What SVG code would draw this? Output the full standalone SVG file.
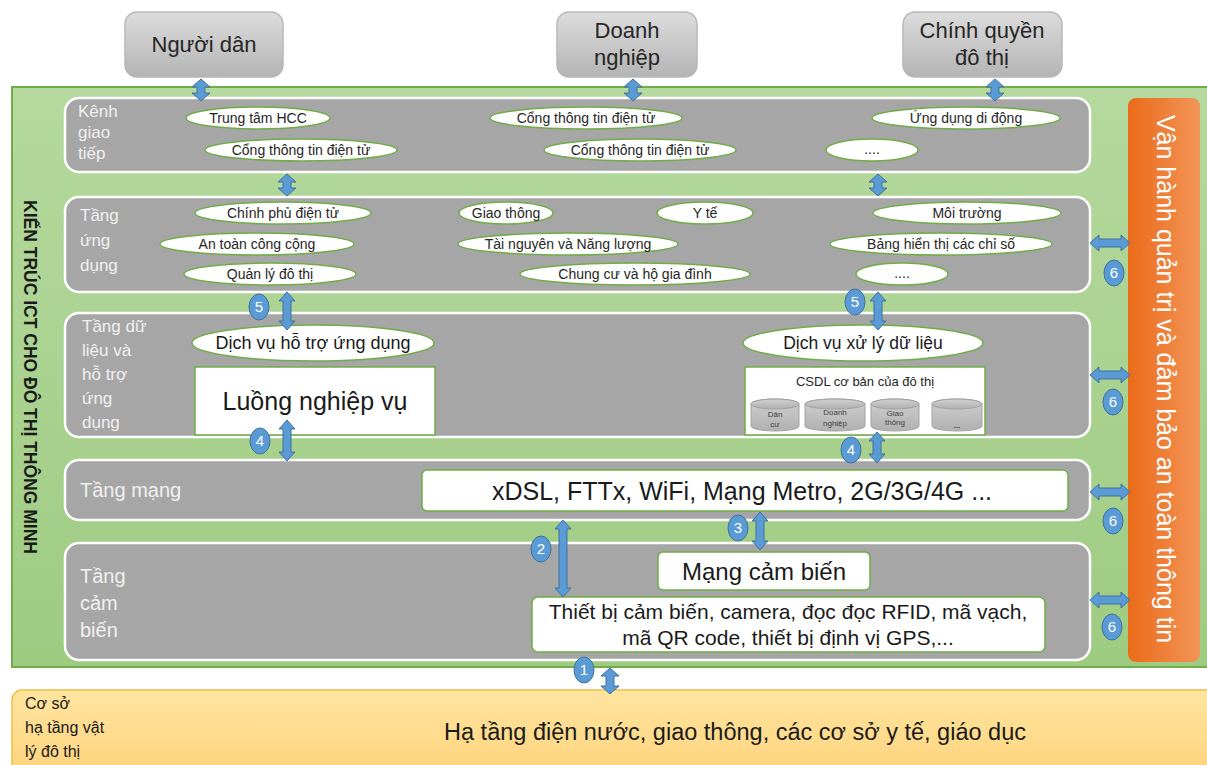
<svg xmlns="http://www.w3.org/2000/svg" width="1207" height="765" viewBox="0 0 1207 765">
<defs>
<linearGradient id="gTop" x1="0" y1="0" x2="0" y2="1"><stop offset="0" stop-color="#dcdcdc"/><stop offset="1" stop-color="#b4b4b4"/></linearGradient>
<linearGradient id="gGreen" x1="0" y1="0" x2="0" y2="1"><stop offset="0" stop-color="#b5d99e"/><stop offset="1" stop-color="#9ecb82"/></linearGradient>
<linearGradient id="gOrange" x1="0" y1="0" x2="1" y2="0"><stop offset="0" stop-color="#ea6b18"/><stop offset="1" stop-color="#f29458"/></linearGradient>
<linearGradient id="gYellow" x1="0" y1="0" x2="0" y2="1"><stop offset="0" stop-color="#ffe5a0"/><stop offset="1" stop-color="#ffd47e"/></linearGradient>
<linearGradient id="gCyl" x1="0" y1="0" x2="0" y2="1"><stop offset="0" stop-color="#d0d0d0"/><stop offset="1" stop-color="#b0b0b0"/></linearGradient>
<style>
text{font-family:"Liberation Sans","DejaVu Sans",sans-serif;}
.top{fill:url(#gTop);stroke:#b8b8b8;stroke-width:1.5}
.tt{font-size:22px;fill:#262626;text-anchor:middle}
.layer{fill:#a6a6a6;stroke:#ffffff;stroke-width:2.5}
.lbl{font-size:17px;fill:#f0f0f0}
.lbl2{font-size:20px;fill:#f0f0f0}
.ov{fill:#ffffff;stroke:#70ad47;stroke-width:1.5}
.ot{font-size:14px;fill:#262626;text-anchor:middle}
.bx{fill:#ffffff;stroke:#70ad47;stroke-width:1.5}
.big{fill:#1a1a1a;text-anchor:middle}
.arr{fill:#5b9bd5;stroke:#41719c;stroke-width:1}
.num{fill:#5b9bd5;stroke:#41719c;stroke-width:1}
.nt{font-size:15px;fill:#ffffff;text-anchor:middle}
.cyl{fill:url(#gCyl);stroke:#a3a3a3;stroke-width:1}
.ct{font-size:8px;fill:#404040;text-anchor:middle}
</style>
</defs>

<g id="frame">
<rect x="12" y="87" width="1210" height="580" fill="url(#gGreen)" stroke="#70ad47" stroke-width="2"/>
<text x="0" y="0" transform="translate(24,377) rotate(90)" font-size="17.5" font-weight="bold" fill="#1a1a1a" text-anchor="middle">KIẾN TRÚC ICT CHO ĐÔ THỊ THÔNG MINH</text>
</g>

<g id="nguoi-dan"><rect class="top" x="125" y="12" width="158" height="65" rx="12"/><text class="tt" x="204" y="52">Người dân</text></g>
<g id="doanh-nghiep"><rect class="top" x="557" y="12" width="140" height="65" rx="12"/><text class="tt" x="627" y="38">Doanh</text><text class="tt" x="627" y="65">nghiệp</text></g>
<g id="chinh-quyen"><rect class="top" x="903" y="12" width="159" height="65" rx="12"/><text class="tt" x="982" y="38">Chính quyền</text><text class="tt" x="982" y="65">đô thị</text></g>

<g id="van-hanh">
<rect x="1128" y="98" width="72" height="564" rx="8" fill="url(#gOrange)"/>
<text x="0" y="0" transform="translate(1157,379) rotate(90)" font-size="25" fill="#ffffff" text-anchor="middle">Vận hành quản trị và đảm bảo an toàn thông tin</text>
</g>

<g id="kenh-giao-tiep">
<rect class="layer" x="65" y="98" width="1025" height="74" rx="14"/>
<text class="lbl" x="78" y="117">Kênh</text><text class="lbl" x="78" y="138">giao</text><text class="lbl" x="78" y="159">tiếp</text>
<ellipse class="ov" cx="258" cy="118" rx="72" ry="11"/><text class="ot" x="258" y="123">Trung tâm HCC</text>
<ellipse class="ov" cx="586" cy="118" rx="96" ry="11"/><text class="ot" x="586" y="123">Cổng thông tin điện tử</text>
<ellipse class="ov" cx="966" cy="118" rx="94" ry="11"/><text class="ot" x="966" y="123">Ứng dụng di động</text>
<ellipse class="ov" cx="301" cy="150" rx="96" ry="11"/><text class="ot" x="301" y="155">Cổng thông tin điện tử</text>
<ellipse class="ov" cx="640" cy="150" rx="96" ry="11"/><text class="ot" x="640" y="155">Cổng thông tin điện tử</text>
<ellipse class="ov" cx="872" cy="150" rx="46" ry="11"/><text class="ot" x="872" y="154">....</text>
</g>

<g id="tang-ung-dung">
<rect class="layer" x="65" y="197" width="1025" height="95" rx="14"/>
<text class="lbl" x="80" y="221">Tầng</text><text class="lbl" x="80" y="246">ứng</text><text class="lbl" x="80" y="271">dụng</text>
<ellipse class="ov" cx="283" cy="213" rx="88" ry="11"/><text class="ot" x="283" y="218">Chính phủ điện tử</text>
<ellipse class="ov" cx="506" cy="213" rx="47" ry="11"/><text class="ot" x="506" y="218">Giao thông</text>
<ellipse class="ov" cx="705" cy="213" rx="48" ry="11"/><text class="ot" x="705" y="218">Y tế</text>
<ellipse class="ov" cx="967" cy="213" rx="94" ry="11"/><text class="ot" x="967" y="218">Môi trường</text>
<ellipse class="ov" cx="257" cy="244" rx="97" ry="11"/><text class="ot" x="257" y="249">An toàn công cộng</text>
<ellipse class="ov" cx="568" cy="244" rx="110" ry="11"/><text class="ot" x="568" y="249">Tài nguyên và Năng lượng</text>
<ellipse class="ov" cx="941" cy="244" rx="111" ry="11"/><text class="ot" x="941" y="249">Bảng hiển thị các chỉ số</text>
<ellipse class="ov" cx="270" cy="274" rx="86" ry="11"/><text class="ot" x="270" y="279">Quản lý đô thị</text>
<ellipse class="ov" cx="635" cy="274" rx="115" ry="11"/><text class="ot" x="635" y="279">Chung cư và hộ gia đình</text>
<ellipse class="ov" cx="902" cy="274" rx="46" ry="11"/><text class="ot" x="902" y="278">....</text>
</g>

<g id="tang-du-lieu">
<rect class="layer" x="65" y="313" width="1025" height="124" rx="14"/>
<text class="lbl" x="82" y="332">Tầng dữ</text><text class="lbl" x="82" y="356">liệu và</text><text class="lbl" x="82" y="380">hỗ trợ</text><text class="lbl" x="82" y="404">ứng</text><text class="lbl" x="82" y="428">dụng</text>
<ellipse class="ov" cx="313" cy="343" rx="121" ry="18"/><text class="big" x="313" y="349" font-size="18">Dịch vụ hỗ trợ ứng dụng</text>
<rect class="bx" x="195" y="367" width="240" height="68"/><text class="big" x="315" y="410" font-size="25">Luồng nghiệp vụ</text>
<ellipse class="ov" cx="863" cy="343" rx="120" ry="18"/><text class="big" x="863" y="349" font-size="17.5">Dịch vụ xử lý dữ liệu</text>
<rect class="bx" x="745" y="367" width="240" height="68"/><text x="865" y="386" font-size="13" fill="#262626" text-anchor="middle">CSDL cơ bản của đô thị</text>
<g id="cyl-dan-cu"><path class="cyl" d="M751,404 v22 a24,5 0 0 0 48,0 v-22 a24,5 0 0 0 -48,0 z"/><ellipse class="cyl" cx="775" cy="404" rx="24" ry="5"/><text class="ct" x="775" y="417">Dân</text><text class="ct" x="775" y="427">cư</text></g>
<g id="cyl-doanh-nghiep"><path class="cyl" d="M805,404 v22 a30,5 0 0 0 60,0 v-22 a30,5 0 0 0 -60,0 z"/><ellipse class="cyl" cx="835" cy="404" rx="30" ry="5"/><text class="ct" x="835" y="415">Doanh</text><text class="ct" x="835" y="426">nghiệp</text></g>
<g id="cyl-giao-thong"><path class="cyl" d="M871,404 v22 a24,5 0 0 0 48,0 v-22 a24,5 0 0 0 -48,0 z"/><ellipse class="cyl" cx="895" cy="404" rx="24" ry="5"/><text class="ct" x="895" y="416" font-size="6">Giao</text><text class="ct" x="895" y="425" font-size="6">thông</text></g>
<g id="cyl-more"><path class="cyl" d="M932,404 v22 a25,5 0 0 0 50,0 v-22 a25,5 0 0 0 -50,0 z"/><ellipse class="cyl" cx="957" cy="404" rx="25" ry="5"/><text class="ct" x="957" y="428" font-size="11" font-weight="bold">...</text></g>
</g>

<g id="tang-mang">
<rect class="layer" x="65" y="460" width="1025" height="60" rx="14"/>
<text class="lbl2" x="80" y="497" font-size="21">Tầng mạng</text>
<rect class="bx" x="422" y="470" width="646" height="41" rx="5"/><text class="big" x="742" y="500" font-size="25">xDSL, FTTx, WiFi, Mạng Metro, 2G/3G/4G ...</text>
</g>

<g id="tang-cam-bien">
<rect class="layer" x="65" y="543" width="1025" height="117" rx="14"/>
<text class="lbl2" x="80" y="583">Tầng</text><text class="lbl2" x="80" y="610">cảm</text><text class="lbl2" x="80" y="637">biến</text>
<rect class="bx" x="658" y="552" width="212" height="38" rx="5"/><text class="big" x="764" y="580" font-size="24">Mạng cảm biến</text>
<rect class="bx" x="532" y="597" width="513" height="55" rx="6"/>
<text class="big" x="788" y="619" font-size="21">Thiết bị cảm biến, camera, đọc đọc RFID, mã vạch,</text>
<text class="big" x="788" y="645" font-size="21">mã QR code, thiết bị định vị GPS,...</text>
</g>

<g id="ha-tang">
<rect x="12" y="690" width="1210" height="82" rx="10" fill="url(#gYellow)" stroke="#f2bd45" stroke-width="1.5"/>
<text x="25" y="709" font-size="16" fill="#1a1a1a">Cơ sở</text><text x="25" y="733" font-size="16" fill="#1a1a1a">hạ tầng vật</text><text x="25" y="757" font-size="16" fill="#1a1a1a">lý đô thị</text>
<text x="735" y="740" font-size="23.5" fill="#1a1a1a" text-anchor="middle">Hạ tầng điện nước, giao thông, các cơ sở y tế, giáo dục</text>
</g>

<g id="connectors">
<path class="arr" d="M201,79 l9,8 h-5 v6 h5 l-9,8 l-9,-8 h5 v-6 h-5 z"/>
<path class="arr" d="M633,79 l9,8 h-5 v6 h5 l-9,8 l-9,-8 h5 v-6 h-5 z"/>
<path class="arr" d="M995,79 l9,8 h-5 v6 h5 l-9,8 l-9,-8 h5 v-6 h-5 z"/>
<path class="arr" d="M287,174 l9,8 h-5 v6 h5 l-9,8 l-9,-8 h5 v-6 h-5 z"/>
<path class="arr" d="M878,174 l9,8 h-5 v6 h5 l-9,8 l-9,-8 h5 v-6 h-5 z"/>
<path class="arr" d="M287,292 l8,9 h-4 v20 h4 l-8,9 l-8,-9 h4 v-20 h-4 z"/>
<path class="arr" d="M878,292 l8,9 h-4 v20 h4 l-8,9 l-8,-9 h4 v-20 h-4 z"/>
<path class="arr" d="M287,420 l8,9 h-4 v23 h4 l-8,9 l-8,-9 h4 v-23 h-4 z"/>
<path class="arr" d="M877,432 l8,9 h-4 v13 h4 l-8,9 l-8,-9 h4 v-13 h-4 z"/>
<path class="arr" d="M760,512 l8,9 h-4 v20 h4 l-8,9 l-8,-9 h4 v-20 h-4 z"/>
<path class="arr" d="M563,520 l8,9 h-4 v59 h4 l-8,9 l-8,-9 h4 v-59 h-4 z"/>
<path class="arr" d="M610,668 l9,8 h-5 v10 h5 l-9,8 l-9,-8 h5 v-10 h-5 z"/>
<path class="arr" d="M1090,243 l9,-8 v4 h22 v-4 l9,8 l-9,8 v-4 h-22 v4 z"/>
<path class="arr" d="M1090,375 l9,-8 v4 h22 v-4 l9,8 l-9,8 v-4 h-22 v4 z"/>
<path class="arr" d="M1090,492 l9,-8 v4 h22 v-4 l9,8 l-9,8 v-4 h-22 v4 z"/>
<path class="arr" d="M1090,600 l9,-8 v4 h22 v-4 l9,8 l-9,8 v-4 h-22 v4 z"/>
<g id="num-5a"><ellipse class="num" cx="259" cy="307" rx="10" ry="13"/><text class="nt" x="259" y="312">5</text></g>
<g id="num-5b"><ellipse class="num" cx="855" cy="302" rx="10" ry="13"/><text class="nt" x="855" y="307">5</text></g>
<g id="num-4a"><ellipse class="num" cx="260" cy="441" rx="10" ry="13"/><text class="nt" x="260" y="446">4</text></g>
<g id="num-4b"><ellipse class="num" cx="851" cy="450" rx="10" ry="13"/><text class="nt" x="851" y="455">4</text></g>
<g id="num-3"><ellipse class="num" cx="738" cy="528" rx="10" ry="13"/><text class="nt" x="738" y="533">3</text></g>
<g id="num-2"><ellipse class="num" cx="541" cy="549" rx="10" ry="13"/><text class="nt" x="541" y="554">2</text></g>
<g id="num-1"><ellipse class="num" cx="584" cy="670" rx="10" ry="13"/><text class="nt" x="584" y="675">1</text></g>
<g id="num-6a"><ellipse class="num" cx="1114" cy="273" rx="10" ry="13"/><text class="nt" x="1114" y="278">6</text></g>
<g id="num-6b"><ellipse class="num" cx="1113" cy="402" rx="10" ry="13"/><text class="nt" x="1113" y="407">6</text></g>
<g id="num-6c"><ellipse class="num" cx="1113" cy="521" rx="10" ry="13"/><text class="nt" x="1113" y="526">6</text></g>
<g id="num-6d"><ellipse class="num" cx="1112" cy="627" rx="10" ry="13"/><text class="nt" x="1112" y="632">6</text></g>
</g>
</svg>
